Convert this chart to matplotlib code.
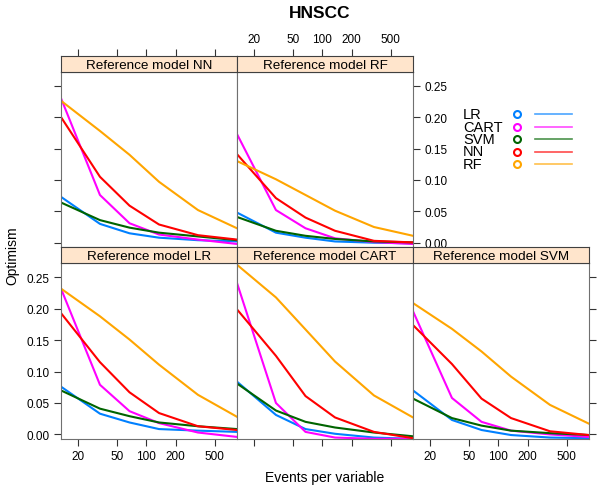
import numpy as np
import matplotlib
matplotlib.use("Agg")
import matplotlib.pyplot as plt
from matplotlib.lines import Line2D

plt.rcParams['font.family'] = ['Liberation Sans', 'DejaVu Sans']

# events per variable (x positions of the curves)
epv = [13.5, 33.7, 67.5, 135, 337, 843]
models = ["LR", "CART", "SVM", "NN", "RF"]
colors = ["#0080ff", "#ff00ff", "darkgreen", "#ff0000", "orange"]
xticks = [20, 50, 100, 200, 500]
yticks = [0.00, 0.05, 0.10, 0.15, 0.20, 0.25]

# optimism per fitted model, one dict per reference model
ref_nn = {
    "LR":   [0.073, 0.030, 0.015, 0.008, 0.004, 0.002],
    "CART": [0.230, 0.076, 0.031, 0.013, 0.005, -0.002],
    "SVM":  [0.064, 0.036, 0.024, 0.016, 0.010, 0.004],
    "NN":   [0.200, 0.105, 0.059, 0.029, 0.012, 0.005],
    "RF":   [0.226, 0.178, 0.140, 0.097, 0.052, 0.023],
}
ref_rf = {
    "LR":   [0.048, 0.016, 0.008, 0.002, 0.000, -0.001],
    "CART": [0.173, 0.052, 0.023, 0.007, 0.001, -0.002],
    "SVM":  [0.041, 0.019, 0.011, 0.006, 0.002, 0.0005],
    "NN":   [0.141, 0.071, 0.040, 0.019, 0.003, 0.0005],
    "RF":   [0.130, 0.101, 0.076, 0.051, 0.025, 0.011],
}
ref_lr = {
    "LR":   [0.076, 0.033, 0.019, 0.0085, 0.006, 0.004],
    "CART": [0.232, 0.079, 0.037, 0.018, 0.003, -0.004],
    "SVM":  [0.070, 0.041, 0.029, 0.019, 0.013, 0.0085],
    "NN":   [0.193, 0.115, 0.067, 0.034, 0.013, 0.007],
    "RF":   [0.232, 0.188, 0.151, 0.111, 0.063, 0.028],
}
ref_cart = {
    "LR":   [0.084, 0.031, 0.0085, 0.001, -0.005, -0.007],
    "CART": [0.241, 0.050, 0.004, -0.005, -0.007, -0.007],
    "SVM":  [0.081, 0.038, 0.020, 0.011, 0.003, -0.003],
    "NN":   [0.199, 0.125, 0.061, 0.027, 0.004, -0.006],
    "RF":   [0.270, 0.218, 0.167, 0.116, 0.062, 0.027],
}
ref_svm = {
    "LR":   [0.070, 0.023, 0.007, -0.001, -0.005, -0.006],
    "CART": [0.196, 0.058, 0.020, 0.006, 0.000, -0.004],
    "SVM":  [0.057, 0.026, 0.014, 0.006, 0.002, -0.001],
    "NN":   [0.174, 0.112, 0.057, 0.026, 0.005, -0.001],
    "RF":   [0.209, 0.168, 0.132, 0.092, 0.047, 0.017],
}

W, H = 600, 489
fig = plt.figure(figsize=(W / 100, H / 100), dpi=100)


def rect(x0, y0, x1, y1):
    return [x0 / W, 1 - y1 / H, (x1 - x0) / W, (y1 - y0) / H]


cols = [61, 237, 413, 589]
rows = [(57.3, 72.7, 248.3), (248.3, 264.3, 440)]

# (title, data, col, row, x ticks side/labels, y ticks side/labels)
panels = [
    ("Reference model NN", ref_nn, 0, 0, "top", False, "left", False),
    ("Reference model RF", ref_rf, 1, 0, "top", True, "right", True),
    ("Reference model LR", ref_lr, 0, 1, "bottom", True, "left", True),
    ("Reference model CART", ref_cart, 1, 1, "bottom", False, None, False),
    ("Reference model SVM", ref_svm, 2, 1, "bottom", True, "right", False),
]

edge = "#707070"
for title, data, c, r, xside, xlab, yside, ylab in panels:
    s0, s1, p1 = rows[r]
    ax = fig.add_axes(rect(cols[c], s1, cols[c + 1], p1))
    st = fig.add_axes(rect(cols[c], s0, cols[c + 1], s1))
    for m, col in zip(models, colors):
        ax.plot(epv, data[m], color=col, lw=1.5)
    for a in (ax, st):
        a.set_xscale("log")
        a.set_xlim(epv[0], epv[-1])
        a.set_xticks(xticks)
        a.set_xticklabels([str(t) for t in xticks])
        a.minorticks_off()
    ax.set_ylim(-0.0073, 0.2723)
    ax.set_yticks(yticks)
    ax.set_yticklabels(["%.2f" % t for t in yticks])
    for sp in ax.spines.values():
        sp.set_color(edge)
    ax.tick_params(axis="x", direction="out", length=5, color="#333333",
                   labelsize=8.5, bottom=(xside == "bottom"), top=False,
                   labelbottom=(xside == "bottom" and xlab),
                   labeltop=False, pad=3)
    ax.tick_params(axis="y", direction="out", length=5, color="#333333",
                   labelsize=8.5, left=(yside == "left"), right=(yside == "right"),
                   labelleft=(yside == "left" and ylab),
                   labelright=(yside == "right" and ylab), pad=3)
    # strip, carries the top x ticks
    st.set_facecolor("#ffe5cc")
    st.set_yticks([])
    st.tick_params(axis="x", direction="out", length=5, color="#333333",
                   labelsize=8.5, bottom=False, labelbottom=False,
                   top=(xside == "top"), labeltop=(xside == "top" and xlab),
                   pad=3)
    for sp in st.spines.values():
        sp.set_color("#404040")
    st.text(0.5, 0.45, title, ha="center", va="center", fontsize=9.7,
            transform=st.transAxes)

fig.text(320 / W, 1 - 13 / H, "HNSCC", ha="center", va="center",
         fontsize=12.5, fontweight="bold")
fig.text(325 / W, 1 - 478 / H, "Events per variable", ha="center",
         va="center", fontsize=10)
fig.text(12 / W, 1 - 256 / H, "Optimism", ha="center", va="center",
         fontsize=10, rotation=90)

# legend
for i, (m, col) in enumerate(zip(models, colors)):
    y = 1 - (115 + 12.5 * i) / H
    fig.text(463 / W, y, m, ha="left", va="center", fontsize=10.5)
    fig.add_artist(Line2D([517 / W], [y], marker="o", markersize=5,
                          markerfacecolor="none", markeredgecolor=col,
                          markeredgewidth=1.5, transform=fig.transFigure))
    fig.add_artist(Line2D([535 / W, 572 / W], [y, y], color=col, lw=1.2,
                          alpha=0.7, transform=fig.transFigure))

fig.savefig("out.png", dpi=100)
